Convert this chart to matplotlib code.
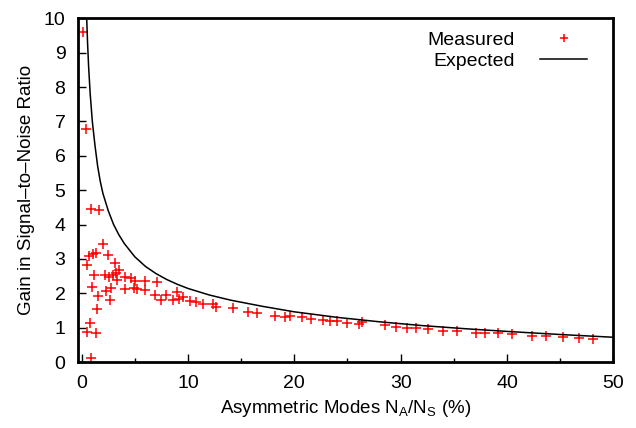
import numpy as np
import matplotlib
matplotlib.use('Agg')
import matplotlib.pyplot as plt

plt.rcParams['font.family'] = ['Liberation Sans', 'DejaVu Sans']
plt.rcParams['mathtext.fontset'] = 'custom'
plt.rcParams['mathtext.rm'] = 'Liberation Sans'

###### measured points ######
meas_x = [0.09, 0.4, 0.9, 1.6, 2.0, 1.38, 1.06, 0.66, 2.47, 0.53, 3.16, 3.48, 3.26,
          1.16, 2.22, 2.54, 2.94, 3.35, 4.1, 4.67, 5.04, 5.98, 7.11, 0.97, 2.79,
          2.32, 4.1, 4.92, 5.23, 5.92, 1.53, 6.87, 2.63, 7.49, 7.96, 8.59, 9.0,
          9.12, 9.53, 1.47, 0.75, 0.53, 1.38, 0.85,
          10.19, 10.75, 11.4, 12.38, 12.63, 14.2, 15.67, 16.46, 18.2, 19.1, 19.6,
          20.7, 21.6, 22.7, 23.4, 24.0, 25.0, 26.1, 26.4, 28.5, 29.6, 30.6, 31.4,
          32.6, 34.0, 35.3, 37.1, 37.9, 39.2, 40.5, 42.4, 43.7, 45.3, 46.8, 48.1]
meas_y = [9.59, 6.77, 4.44, 4.42, 3.43, 3.18, 3.14, 3.08, 3.1, 2.81, 2.87, 2.68, 2.6,
          2.52, 2.52, 2.46, 2.52, 2.39, 2.48, 2.44, 2.37, 2.37, 2.33, 2.17, 2.15,
          2.07, 2.11, 2.15, 2.11, 2.09, 1.92, 1.94, 1.8, 1.8, 1.94, 1.8, 2.05,
          1.82, 1.9, 1.53, 1.14, 0.87, 0.83, 0.12,
          1.77, 1.74, 1.7, 1.68, 1.61, 1.56, 1.45, 1.43, 1.34, 1.3, 1.34,
          1.3, 1.24, 1.21, 1.2, 1.18, 1.14, 1.11, 1.16, 1.08, 1.03, 0.98, 0.98,
          0.95, 0.91, 0.91, 0.85, 0.85, 0.83, 0.81, 0.76, 0.76, 0.72, 0.7, 0.66]

###### expected curve ######
exp_x = [0.47, 0.55, 0.65, 0.8, 1.0, 1.25, 1.5, 1.75, 2.0, 2.5, 3.0, 3.5, 4.0,
         5.0, 6.0, 7.0, 8.0, 9.0, 10, 12, 14, 17, 20, 24, 28, 32, 36, 40, 45, 50]
exp_y = [10.0, 9.3, 8.6, 7.8, 7.0, 6.3, 5.7, 5.25, 4.9, 4.4, 4.0, 3.7, 3.45,
         3.06, 2.78, 2.57, 2.4, 2.26, 2.14, 1.95, 1.8, 1.62, 1.46, 1.3, 1.17,
         1.06, 0.97, 0.89, 0.8, 0.72]

fig = plt.figure(figsize=(6.36, 4.28), dpi=100)
ax = fig.add_axes([0.1226, 0.1542, 0.8417, 0.8030])

ax.plot(meas_x, meas_y, '+', color='red', markersize=7, markeredgewidth=1.1,
        label='Measured', clip_on=False)
ax.plot(exp_x, exp_y, '-', color='black', linewidth=1.1, label='Expected')

ax.set_xlim(-0.35, 50)
ax.set_ylim(0, 10)
ax.set_xticks(np.arange(0, 51, 10))
ax.set_xticks(np.arange(0, 51, 5), minor=True)
ax.set_yticks(np.arange(0, 11, 1))

ax.tick_params(axis='x', which='major', direction='in', length=5.5, width=1,
               labelsize=14, pad=9)
ax.tick_params(axis='y', which='major', direction='in', length=5.5, width=1,
               labelsize=14, pad=9)
ax.tick_params(axis='x', which='minor', direction='in', length=2.8, width=1)
ax.tick_params(top=False, right=False)
for s in ax.spines.values():
    s.set_linewidth(2)

ax.set_xlabel(r'Asymmetric Modes N$_\mathregular{A}$/N$_\mathregular{S}$ (%)', fontsize=13.5, labelpad=5)
ax.set_ylabel('Gain in Signal\u2013to\u2013Noise Ratio', fontsize=13.5, labelpad=6)

leg = ax.legend(loc='upper right', bbox_to_anchor=(0.951, 0.963), frameon=False,
                fontsize=14, markerfirst=False, handlelength=2.4,
                borderaxespad=0, borderpad=0, labelspacing=0.2,
                handletextpad=1.3, markerscale=0.8)
for t in leg.get_texts():
    t.set_ha('right')

fig.savefig('out.png', dpi=100)
